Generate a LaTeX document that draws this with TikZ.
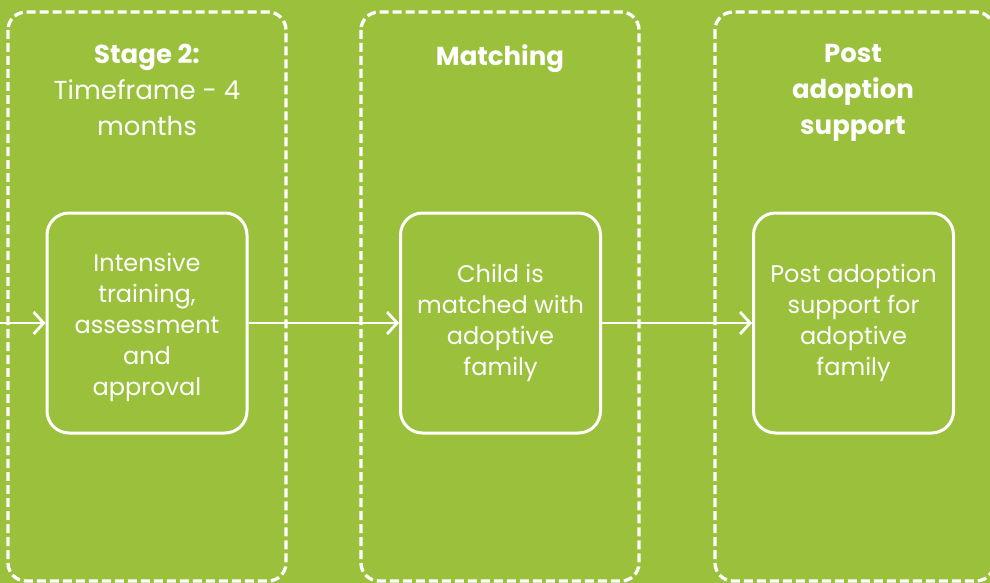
\documentclass[tikz,border=0pt]{standalone}
\usepackage{fontspec}
\setmainfont{Poppins}
\usetikzlibrary{arrows.meta}
\definecolor{bggreen}{HTML}{9AC03C}
\tikzset{
  lane/.style={draw=white, line width=3.3pt, dash pattern=on 9pt off 4pt, rounded corners=18pt},
  stepbox/.style={draw=white, line width=3pt, rounded corners=22pt, minimum width=200pt, minimum height=220pt, inner sep=0pt, align=center, text=white, font=\fontsize{24}{31}\selectfont},
  title/.style={text=white, align=center, font=\fontsize{26}{36}\selectfont, anchor=north, inner sep=0pt},
  flow/.style={draw=white, line width=2.8pt, -{Straight Barb[length=10pt,width=22pt,line width=2.8pt]}}
}
\begin{document}
\begin{tikzpicture}[x=1pt,y=-1pt]
\fill[bggreen] (0,0) rectangle (990,583);
\useasboundingbox (0,0) rectangle (990,583);
% lanes
\draw[lane] (8,12) rectangle (286,581);
\draw[lane] (361,12) rectangle (639,581);
\draw[lane] (715,12) rectangle (994,581);
% titles
\node[title] (t1) at (147,44) {\textbf{Stage 2:}\\Timeframe - 4\\months};
\node[title] (t2) at (500,44) {\textbf{Matching}};
\node[title] (t3) at (853,44) {\textbf{Post}\\\textbf{adoption}\\\textbf{support}};
% step boxes
\node[stepbox] (a) at (147,323) {\\[-4pt]Intensive\\training,\\assessment\\and\\approval};
\node[stepbox] (b) at (500.5,323) {Child is\\matched with\\adoptive\\family};
\node[stepbox] (c) at (853.5,323) {Post adoption\\support for\\adoptive\\family};
\coordinate (start) at (0,323);
\draw[flow] (start) -- (a.west);
\draw[flow] (a.east) -- (b.west);
\draw[flow] (b.east) -- (c.west);
\end{tikzpicture}
\end{document}
